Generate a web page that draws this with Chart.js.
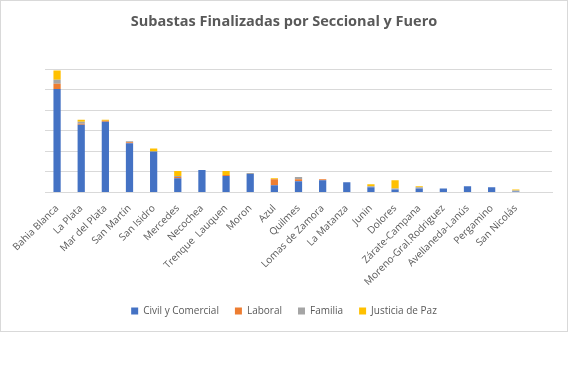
<!DOCTYPE html>
<html lang="es">
<head>
    <meta charset="UTF-8">
    <title>Subastas Finalizadas por Seccional y Fuero</title>
    <script src="https://cdn.jsdelivr.net/npm/chart.js"></script>
    <style>
        body { margin: 0; background: #fff; }
        #box {
            position: absolute; left: 0; top: 0;
            width: 568px; height: 332px;
            box-sizing: border-box;
            border: 1px solid #d9d9d9;
        }
        canvas { display: block; }
    </style>
</head>
<body>
    <div id="box">
        <canvas id="graphic" width="566" height="330"></canvas>
    </div>
    <script>
        const secciones = ["Bahia Blanca", "La Plata", "Mar del Plata", "San Martín", "San Isidro",
            "Mercedes", "Necochea", "Trenque  Lauquen", "Moron", "Azul", "Quilmes", "Lomas de Zamora",
            "La Matanza", "Junin", "Dolores", "Zárate-Campana", "Moreno-Gral.Rodriguez",
            "Avellaneda-Lanús", "Pergamino", "San Nicolás", ""];

        const civilComercial = [101, 66, 69, 48, 40, 14, 22, 16, 18, 7, 11, 12, 10, 5, 3, 4, 4, 6, 5, 1, null];
        const laboral        = [5, 1, 1, 1, 0, 1, 0, 1, 0, 6, 2, 1, 0, 0, 0, 0, 0, 0, 0, 0, null];
        const familia        = [4, 2, 0, 1, 0, 1, 0, 0, 1, 0, 2, 0, 0, 1, 1, 1, 0, 0, 0, 1, null];
        const justiciaPaz    = [9, 2, 1, 0, 3, 5, 0, 4, 0, 1, 0, 0, 0, 2, 8, 1, 0, 0, 0, 1, null];

        const textColor = "#595959";
        const gridColor = "#d9d9d9";

        const ctx = document.getElementById("graphic").getContext("2d");

        function serie(label, data, color) {
            return {
                label,
                data,
                backgroundColor: color,
                categoryPercentage: 1,
                barPercentage: 0.3
            };
        }

        new Chart(ctx, {
            type: "bar",
            data: {
                labels: secciones,
                datasets: [
                    serie("Civil y Comercial", civilComercial, "#4472C4"),
                    serie("Laboral", laboral, "#ED7D31"),
                    serie("Familia", familia, "#A5A5A5"),
                    serie("Justicia de Paz", justiciaPaz, "#FFC000")
                ]
            },
            options: {
                responsive: false,
                animation: false,
                layout: { padding: { left: 15, right: 15, top: 6, bottom: 5 } },
                plugins: {
                    title: {
                        display: true,
                        text: "Subastas Finalizadas por Seccional y Fuero",
                        color: textColor,
                        font: { family: "Open Sans", size: 14.5, weight: "bold" },
                        padding: { top: 6, bottom: 39 }
                    },
                    legend: {
                        position: "bottom",
                        labels: {
                            color: textColor,
                            font: { family: "Open Sans", size: 10 },
                            boxWidth: 7,
                            boxHeight: 7,
                            padding: 16
                        }
                    },
                    tooltip: { enabled: false }
                },
                scales: {
                    x: {
                        stacked: true,
                        grid: { display: false },
                        border: { color: gridColor },
                        ticks: {
                            color: textColor,
                            font: { family: "Open Sans", size: 10 },
                            autoSkip: false,
                            maxRotation: 45,
                            minRotation: 45,
                            padding: 2
                        }
                    },
                    y: {
                        stacked: true,
                        min: 0,
                        max: 120,
                        afterFit: (scale) => { scale.width = 29; },
                        grid: { color: gridColor, drawTicks: false },
                        border: { display: false },
                        ticks: { display: false, stepSize: 20 }
                    }
                }
            }
        });
    </script>
</body>
</html>
